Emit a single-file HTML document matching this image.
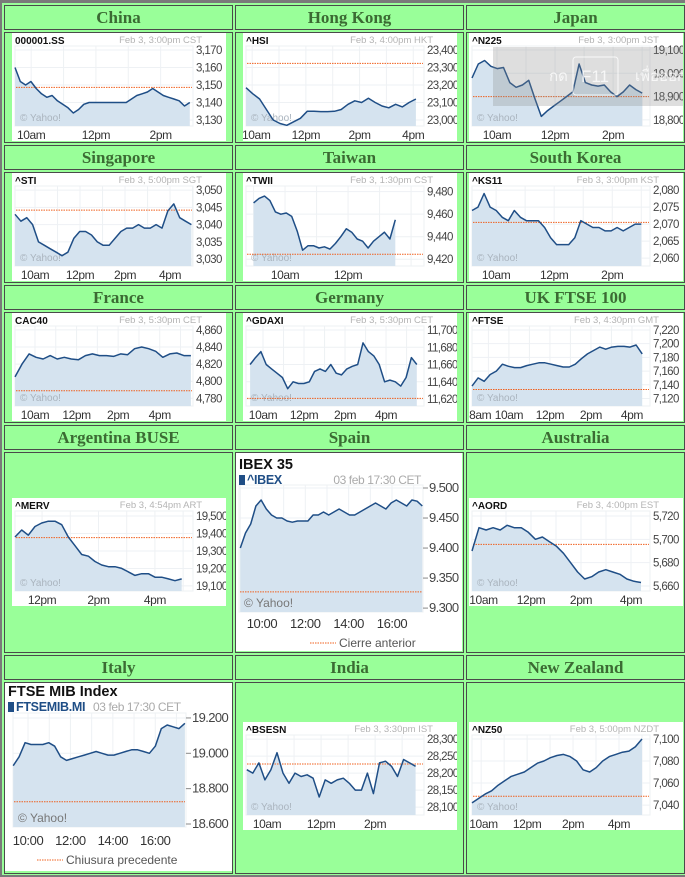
<!DOCTYPE html>
<html><head><meta charset="utf-8">
<style>
html,body{margin:0;padding:0}
body{width:685px;height:877px;background:#7a7a7a;position:relative;overflow:hidden;font-family:"Liberation Sans",sans-serif}
#grid{position:absolute;left:2px;top:3px;width:683px;height:872px;background:#99ff99}
.cell{position:absolute;box-sizing:border-box;border:1px solid #4a4a4a;background:#99ff99}
.hdr{font-family:"Liberation Serif",serif;font-weight:bold;font-size:17px;color:#3b6b33;text-align:center;line-height:23px}
svg.chart{position:absolute;background:#fff}
</style></head>
<body>
<div id="grid"></div>
<div id="cells"></div>
<script>
// ---------- DATA ----------
const chinaValues=[3160,3152,3150,3152,3148,3145,3143,3144,3141,3139,3137,3134,3136,3139,3140,3140,3140,3140,3140,3140,3140,3140,3142,3144,3145,3146,3148,3146,3144,3143,3142,3141,3138,3140];
const chinaTicks=[3130,3140,3150,3160,3170];
const chinaXTimes=[10,12,14];const chinaXLabels=["10am","12pm","2pm"];
const hkValues=[23185,23150,23120,23060,23000,22980,22970,22990,23010,23050,23050,23048,23048,23050,23060,23090,23110,23100,23125,23100,23080,23070,23090,23075,23100,23120];
const hkTicks=[23000,23100,23200,23300,23400];
const hkXTimes=[10.15,12,14,16];const hkXLabels=["10am","12pm","2pm","4pm"];
const jpValues=[18980,19040,19055,19030,19020,19025,18960,18940,18950,18970,18890,18815,18840,18860,18880,18900,18920,19040,18960,18950,18945,18950,18920,18900,18920,18950,18930,18915];
const jpTicks=[18800,18900,19000,19100];
const jpXTimes=[10,12,14];const jpXLabels=["10am","12pm","2pm"];
const sgValues=[3043,3041,3042,3040,3035,3034,3033,3032,3031,3032,3036,3038,3038,3037,3035,3034,3034,3036,3038,3039,3039,3040,3039,3039,3040,3039,3044,3046,3042,3041,3040];
const sgTicks=[3030,3035,3040,3045,3050];
const sgXTimes=[10,12,14,16];const sgXLabels=["10am","12pm","2pm","4pm"];
const twValues=[9470,9474,9476,9472,9462,9460,9461,9458,9445,9428,9432,9432,9430,9431,9429,9434,9440,9447,9444,9438,9436,9430,9436,9440,9444,9438,9455];
const twTicks=[9420,9440,9460,9480];
const twXTimes=[10,12];const twXLabels=["10am","12pm"];
const krValues=[2074,2075,2079,2075,2074,2072,2071,2074,2072,2071,2071,2071,2069,2066,2064,2064,2064,2066,2071,2070,2069,2069,2068,2068,2069,2068,2069,2070,2070];
const krTicks=[2060,2065,2070,2075,2080];
const krXTimes=[10,12,14];const krXLabels=["10am","12pm","2pm"];
const frValues=[4805,4820,4832,4828,4826,4830,4826,4828,4826,4825,4830,4832,4830,4830,4829,4832,4831,4838,4840,4838,4835,4828,4832,4833,4830,4830];
const frTicks=[4780,4800,4820,4840,4860];
const frXTimes=[10,12,14,16];const frXLabels=["10am","12pm","2pm","4pm"];
const deValues=[11660,11668,11675,11660,11655,11650,11645,11632,11640,11638,11638,11640,11652,11655,11652,11660,11650,11648,11655,11658,11660,11685,11675,11670,11660,11640,11642,11640,11635,11645,11668,11660];
const deTicks=[11620,11640,11660,11680,11700];
const deXTimes=[10,12,14,16];const deXLabels=["10am","12pm","2pm","4pm"];
const ukValues=[7138,7150,7145,7155,7160,7170,7167,7165,7165,7168,7170,7172,7172,7170,7168,7166,7166,7170,7178,7185,7190,7195,7192,7195,7196,7196,7195,7198,7185];
const ukTicks=[7120,7140,7160,7180,7200,7220];
const ukXTimes=[8.6,10,12,14,16];const ukXLabels=["8am","10am","12pm","2pm","4pm"];
const arValues=[19380,19420,19390,19440,19460,19470,19470,19450,19380,19330,19280,19270,19240,19220,19210,19210,19200,19180,19160,19170,19170,19150,19150,19140,19130,19140];
const arTicks=[19100,19200,19300,19400,19500];
const arXTimes=[12,14,16];const arXLabels=["12pm","2pm","4pm"];
const auValues=[5690,5710,5708,5710,5708,5712,5710,5710,5706,5700,5702,5698,5694,5688,5680,5672,5666,5668,5672,5674,5672,5670,5666,5664,5663];
const auTicks=[5660,5680,5700,5720];
const auXTimes=[10.1,12,14,16];const auXLabels=["10am","12pm","2pm","4pm"];
const inValues=[28210,28200,28230,28180,28210,28260,28200,28170,28200,28190,28195,28185,28130,28180,28170,28180,28185,28170,28150,28150,28200,28140,28230,28235,28220,28190,28240,28230,28220];
const inTicks=[28100,28150,28200,28250,28300];
const inXTimes=[10,12,14];const inXLabels=["10am","12pm","2pm"];
const nzValues=[7042,7046,7050,7053,7058,7062,7066,7068,7070,7074,7078,7080,7083,7085,7086,7084,7080,7072,7070,7074,7080,7084,7086,7088,7089,7093,7100];
const nzTicks=[7040,7060,7080,7100];
const nzXTimes=[10.1,12,14,16];const nzXLabels=["10am","12pm","2pm","4pm"];
const esValues=[9.40,9.425,9.44,9.47,9.48,9.465,9.455,9.45,9.45,9.445,9.443,9.445,9.445,9.445,9.455,9.455,9.46,9.455,9.46,9.465,9.46,9.455,9.455,9.46,9.465,9.47,9.475,9.47,9.465,9.475,9.48,9.475,9.47,9.48,9.478,9.47];
const esTicks=[9.30,9.35,9.40,9.45,9.50];
const esXTimes=[10,12,14,16];const esXLabels=["10:00","12:00","14:00","16:00"];
const itValues=[18.93,18.98,19.06,19.05,19.05,19.05,19.06,19.04,18.98,18.96,18.97,18.98,18.99,19.00,19.01,19.00,18.99,18.99,19.00,19.01,19.02,19.02,19.01,19.00,19.04,19.14,19.16,19.15,19.14,19.17];
const itTicks=[18.6,18.8,19.0,19.2];
const itXTimes=[10,12,14,16];const itXLabels=["10:00","12:00","14:00","16:00"];
const prevCloses=[3148.7,23324,18900,3044.2,9424.4,2070.5,4788.8,11620.8,7133,19376,5695.7,28226.7,7048,9.327,18.726];

// ---------- LAYOUT ----------
const headers=[
 ["China",4,5,229],["Hong Kong",235,5,229],["Japan",466,5,219],
 ["Singapore",4,145,229],["Taiwan",235,145,229],["South Korea",466,145,219],
 ["France",4,285,229],["Germany",235,285,229],["UK FTSE 100",466,285,219],
 ["Argentina BUSE",4,425,229],["Spain",235,425,229],["Australia",466,425,219],
 ["Italy",4,655,229],["India",235,655,229],["New Zealand",466,655,219]];
const bodyRows=[[32,111],[172,111],[312,111],[452,201],[682,192]];
const cellsDiv=document.getElementById('cells');
headers.forEach((h,i)=>{
  const d=document.createElement('div');
  d.className='cell hdr';
  d.style.cssText=`left:${h[1]}px;top:${h[2]}px;width:${h[3]}px;height:25px`;
  d.textContent=h[0];
  
  
  cellsDiv.appendChild(d);
  const r=bodyRows[Math.floor(i/3)];
  const b=document.createElement('div');
  b.className='cell';
  b.style.cssText=`left:${h[1]}px;top:${r[0]}px;width:${h[3]}px;height:${r[1]}px`;
  
  
  cellsDiv.appendChild(b);
});

const NS='http://www.w3.org/2000/svg';
function mk(tag,parent,attrs){const e=document.createElementNS(NS,tag);for(const k in attrs)e.setAttribute(k,attrs[k]);parent.appendChild(e);return e;}
function txt(parent,x,y,s,attrs){const t=mk('text',parent,Object.assign({x:x,y:y},attrs));t.textContent=s;return t;}
function fmt(v,big){
  if(big) return v.toFixed(3);
  return Math.round(v).toLocaleString('en-US');
}

function drawChart(c){
  const svg=mk('svg',document.body,{width:c.w,height:c.h,class:'chart'});
  
  
  svg.style.left=c.x+'px';svg.style.top=c.y+'px';
  const P=c.plot;
  const sx=t=>P.l+(t-c.xdom[0])/(c.xdom[1]-c.xdom[0])*(P.r-P.l);
  const sy=v=>P.t+(c.ymax-v)/(c.ymax-c.ymin)*(P.b-P.t);
  const fs=c.big?13:11.5;
  const g=mk('g',svg,{});
  
  
  mk('rect',g,{x:P.l,y:P.t,width:P.r-P.l,height:P.b-P.t,fill:'#fff',stroke:'#edf0f3'});
  for(let h=Math.ceil(c.xdom[0]);h<=c.xdom[1];h++){mk('line',g,{x1:sx(h),x2:sx(h),y1:P.t,y2:P.b,stroke:'#eef1f4'});}
  c.ticks.forEach(v=>{mk('line',g,{x1:P.l,x2:P.r,y1:sy(v),y2:sy(v),stroke:'#eef1f4'});});
  const n=c.values.length;
  const pts=c.values.map((v,i)=>[sx(c.t0+i*(c.t1-c.t0)/(n-1)),sy(v)]);
  const d=pts.map((p,i)=>(i?'L':'M')+p[0].toFixed(1)+','+p[1].toFixed(1)).join('');
  const area=mk('path',svg,{d:d+`L${pts[n-1][0].toFixed(1)},${P.b}L${pts[0][0].toFixed(1)},${P.b}Z`,fill:'#d5e3ef'});
  
  
  const wm=txt(svg,P.l+5,P.b-5,'© Yahoo!',{fill:c.big?'#777':'#aab4be','font-size':c.big?12:10});
  
  
  const prev=mk('line',svg,{x1:P.l+1,x2:P.r-1,y1:sy(c.prev),y2:sy(c.prev),stroke:'#f0601e','stroke-width':1,'stroke-dasharray':'1.5,1'});
  
  
  const line=mk('path',svg,{d:d,fill:'none',stroke:'#1f4e86','stroke-width':1.5,'stroke-linejoin':'round'});
  
  
  c.ticks.forEach(v=>{
    if(c.big){mk('line',svg,{x1:P.r,x2:P.r+5,y1:sy(v),y2:sy(v),stroke:'#888'});}
    const t=txt(svg,P.r+(c.big?6:3),sy(v)+4,fmt(v,c.big),{fill:'#444','font-size':fs,'letter-spacing':c.big?'-0.6':'-0.6'});
    
    
  });
  c.xTimes.forEach((tm,i)=>{
    const t=txt(svg,sx(tm),c.xLabelY,c.xLabels[i],{fill:'#333','font-size':c.big?13:12,'text-anchor':'middle','letter-spacing':'-0.4'});
    
    
  });
  if(!c.big){
    const t=txt(svg,3,11,c.title,{fill:'#111','font-size':10,'font-weight':'bold'});
    
    
    const dt=txt(svg,190,10,c.date,{fill:'#b4b4b4','font-size':9.5,'text-anchor':'end'});
    
    
  } else {
    const t=txt(svg,3,c.titleY,c.title,{fill:'#111','font-size':14.5,'font-weight':'bold'});
    
    
    mk('rect',svg,{x:3,y:c.symY-9,width:6,height:10,fill:'#1f4e86'});
    const s=txt(svg,11,c.symY,c.sym,{fill:'#1f4e86','font-size':12.5,'font-weight':'bold','letter-spacing':'-0.3'});
    
    
    const dt=txt(svg,c.dateX,c.symY,c.date,{fill:'#aaa','font-size':12,'text-anchor':c.dateAnchor,'letter-spacing':'-0.4'});
    
    
    mk('line',svg,{x1:c.legX,x2:c.legX+26,y1:c.legY-4,y2:c.legY-4,stroke:'#f0601e','stroke-dasharray':'1.5,1'});
    const lg=txt(svg,c.legX+29,c.legY,c.legend,{fill:'#555','font-size':12});
    
    
  }
  if(c.overlay){
    const o=mk('g',svg,{});
    
    
    mk('rect',o,{x:24,y:14,width:200,height:59,fill:'#888','fill-opacity':0.28});
    mk('rect',o,{x:104,y:24,width:45,height:38,rx:3,fill:'none',stroke:'#fff','stroke-opacity':0.8});
    txt(o,80,48,'กด',{fill:'#fff','fill-opacity':0.75,'font-size':15,'font-family':'"DejaVu Sans",sans-serif'});
    txt(o,126,49,'F11',{fill:'#fff','fill-opacity':0.75,'font-size':17,'text-anchor':'middle'});
    txt(o,166,48,'เพื่อออก',{fill:'#fff','fill-opacity':0.75,'font-size':15,'font-family':'"DejaVu Sans",sans-serif'});
  }
}
const SP={l:3,t:13,r:181,b:93};
function small(name,x,y,title,date,ymin,ymax,xdom,t0,t1,values,ticks,xTimes,xLabels,prev,extra){
  drawChart(Object.assign({name,x,y,w:214,h:108,plot:SP,title,date,ymin,ymax,xdom,t0,t1,values,ticks,xTimes,xLabels,prev,xLabelY:106},extra||{}));
}
small('china',12,33,'000001.SS','Feb 3, 3:00pm CST',3126.6,3172.3,[9.5,15],9.5,14.9,chinaValues,chinaTicks,chinaXTimes,chinaXLabels,prevCloses[0]);
small('hong-kong',243,33,'^HSI','Feb 3, 4:00pm HKT',22966,23423,[9.77,16.4],9.77,16.1,hkValues,hkTicks,hkXTimes,hkXLabels,prevCloses[1]);
small('japan',469,33,'^N225','Feb 3, 3:00pm JST',18774,19117,[9.14,15.27],9.14,15,jpValues,jpTicks,jpXTimes,jpXLabels,prevCloses[2],{overlay:true});
small('singapore',12,173,'^STI','Feb 3, 5:00pm SGT',3028,3051.2,[9.11,17.02],9.11,16.95,sgValues,sgTicks,sgXTimes,sgXLabels,prevCloses[3]);
small('taiwan',243,173,'^TWII','Feb 3, 1:30pm CST',9414,9485,[8.76,14.41],9.0,13.5,twValues,twTicks,twXTimes,twXLabels,prevCloses[4]);
small('south-korea',469,173,'^KS11','Feb 3, 3:00pm KST',2057.7,2081.2,[9.17,15.3],9.17,15,krValues,krTicks,krXTimes,krXLabels,prevCloses[5]);
small('france',12,313,'CAC40','Feb 3, 5:30pm CET',4771,4864.6,[9.04,17.6],9.04,17.5,frValues,frTicks,frXTimes,frXLabels,prevCloses[6]);
small('germany',243,313,'^GDAXI','Feb 3, 5:30pm CET',11612,11704.6,[9.17,17.85],9.37,17.5,deValues,deTicks,deXTimes,deXLabels,prevCloses[7]);
small('uk',469,313,'^FTSE','Feb 3, 4:30pm GMT',7109,7225.8,[8.2,16.88],8.2,16.5,ukValues,ukTicks,ukXTimes,ukXLabels,prevCloses[8]);
small('argentina',12,498,'^MERV','Feb 3, 4:54pm ART',19071,19528.6,[11.04,17.35],11.04,16.95,arValues,arTicks,arXTimes,arXLabels,prevCloses[9]);
small('australia',469,498,'^AORD','Feb 3, 4:00pm EST',5655.7,5724.3,[9.64,16.76],9.64,16.4,auValues,auTicks,auXTimes,auXLabels,prevCloses[10]);
small('india',243,722,'^BSESN','Feb 3, 3:30pm IST',28077,28312,[9.22,15.81],9.25,15.5,inValues,inTicks,inXTimes,inXLabels,prevCloses[11]);
small('new-zealand',469,722,'^NZ50','Feb 3, 5:00pm NZDT',7031,7103.6,[9.6,17.35],9.6,17.0,nzValues,nzTicks,nzXTimes,nzXLabels,prevCloses[12]);
drawChart({name:'spain',big:true,x:236,y:453,w:226,h:198,plot:{l:3,t:32,r:187,b:159},title:'IBEX 35',titleY:16,sym:'^IBEX',symY:31,date:'03 feb 17:30 CET',dateX:185,dateAnchor:'end',ymin:9.2935,ymax:9.505,xdom:[8.94,17.43],t0:9.0,t1:17.4,values:esValues,ticks:esTicks,xTimes:esXTimes,xLabels:esXLabels,prev:prevCloses[13],xLabelY:175,legX:74,legY:194,legend:'Cierre anterior'});
drawChart({name:'italy',big:true,x:5,y:683,w:227,h:188,plot:{l:8,t:30,r:181,b:144},title:'FTSE MIB Index',titleY:13,sym:'FTSEMIB.MI',symY:28,date:'03 feb 17:30 CET',dateX:88,dateAnchor:'start',ymin:18.583,ymax:19.228,xdom:[9.29,17.45],t0:9.3,t1:17.4,values:itValues,ticks:itTicks,xTimes:itXTimes,xLabels:itXLabels,prev:prevCloses[14],xLabelY:162,legX:32,legY:181,legend:'Chiusura precedente'});
</script>
</body></html>
